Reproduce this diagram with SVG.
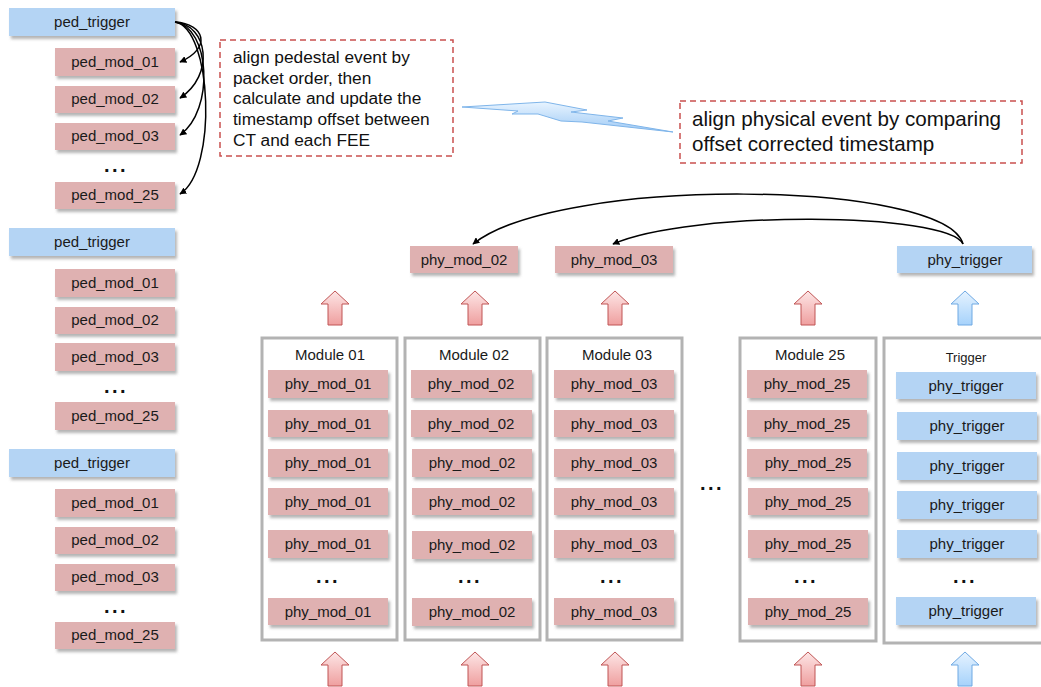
<svg xmlns="http://www.w3.org/2000/svg" width="1041" height="687" viewBox="0 0 1041 687">
<defs>
<filter id="sh" x="-10%" y="-30%" width="130%" height="170%">
<feDropShadow dx="2" dy="3" stdDeviation="1.5" flood-color="#777" flood-opacity="0.55"/>
</filter>
<linearGradient id="gp" x1="0" y1="0" x2="0" y2="1"><stop offset="0" stop-color="#fde6e6"/><stop offset="1" stop-color="#ef9f9f"/></linearGradient>
<linearGradient id="gb" x1="0" y1="0" x2="0" y2="1"><stop offset="0" stop-color="#e6f3ff"/><stop offset="1" stop-color="#a6d2fb"/></linearGradient>
<linearGradient id="gl" x1="0" y1="0" x2="0" y2="1"><stop offset="0" stop-color="#e8f4ff"/><stop offset="1" stop-color="#9fcaf5"/></linearGradient>
<marker id="ah" viewBox="0 0 10 10" refX="9" refY="5" markerWidth="7" markerHeight="7" orient="auto-start-reverse" markerUnits="userSpaceOnUse">
<path d="M0,0 L10,5 L0,10 z" fill="#000"/>
</marker>
<path id="upa" d="M0,0 L14,13 L7,13 L7,34 L-7,34 L-7,13 L-14,13 Z"/>
</defs>
<style>
.p{fill:#dfb1b1;filter:url(#sh)}
.b{fill:#b4d4f4;filter:url(#sh)}
.t{font-family:"Liberation Sans",Arial,sans-serif;font-size:15px;fill:#1a1a1a;text-anchor:middle}
.tt{font-family:"Liberation Sans",Arial,sans-serif;font-size:13px;fill:#1a1a1a;text-anchor:middle}
.d{font-family:"Liberation Sans",Arial,sans-serif;font-size:20px;font-weight:bold;fill:#111;text-anchor:middle;letter-spacing:2.5px}
.mod{fill:#fff;stroke:#b3b3b3;stroke-width:3}
.dash{fill:#fff;stroke:#c9504f;stroke-width:1.5;stroke-dasharray:6 4}
.note{font-family:"Liberation Sans",Arial,sans-serif;font-size:17.3px;fill:#111}
.note2{font-family:"Liberation Sans",Arial,sans-serif;font-size:20.6px;fill:#111}
.c{fill:none;stroke:#000;stroke-width:1.5;marker-end:url(#ah)}
.ap{fill:url(#gp);stroke:#c05555;stroke-width:1}
.ab{fill:url(#gb);stroke:#6fa9e3;stroke-width:1}
</style>
<rect width="1041" height="687" fill="#fff"/>

<!-- left pedestal groups -->
<g id="ped-group-1">
<rect class="b" x="9" y="8" width="166" height="28"/><text class="t" x="92" y="27">ped_trigger</text>
<rect class="p" x="55" y="48" width="120" height="28"/><text class="t" x="115" y="67">ped_mod_01</text>
<rect class="p" x="55" y="86" width="120" height="27"/><text class="t" x="115" y="104">ped_mod_02</text>
<rect class="p" x="55" y="123" width="120" height="27"/><text class="t" x="115" y="141">ped_mod_03</text>
<text class="d" x="116" y="172">...</text>
<rect class="p" x="55" y="182" width="120" height="27"/><text class="t" x="115" y="200">ped_mod_25</text>
</g>
<g id="ped-group-2">
<rect class="b" x="9" y="228" width="166" height="28"/><text class="t" x="92" y="247">ped_trigger</text>
<rect class="p" x="55" y="269" width="120" height="28"/><text class="t" x="115" y="288">ped_mod_01</text>
<rect class="p" x="55" y="307" width="120" height="27"/><text class="t" x="115" y="325">ped_mod_02</text>
<rect class="p" x="55" y="343" width="120" height="28"/><text class="t" x="115" y="362">ped_mod_03</text>
<text class="d" x="116" y="393">...</text>
<rect class="p" x="55" y="402" width="120" height="28"/><text class="t" x="115" y="421">ped_mod_25</text>
</g>
<g id="ped-group-3">
<rect class="b" x="9" y="449" width="166" height="28"/><text class="t" x="92" y="468">ped_trigger</text>
<rect class="p" x="55" y="489" width="120" height="28"/><text class="t" x="115" y="508">ped_mod_01</text>
<rect class="p" x="55" y="527" width="120" height="27"/><text class="t" x="115" y="545">ped_mod_02</text>
<rect class="p" x="55" y="564" width="120" height="27"/><text class="t" x="115" y="582">ped_mod_03</text>
<text class="d" x="116" y="613">...</text>
<rect class="p" x="55" y="622" width="120" height="27"/><text class="t" x="115" y="640">ped_mod_25</text>
</g>

<!-- notes -->
<g id="note-pedestal">
<rect class="dash" x="220" y="40" width="233" height="116"/>
<text class="note" x="233" y="63">align pedestal event by</text>
<text class="note" x="233" y="84">packet order, then</text>
<text class="note" x="233" y="104">calculate and update the</text>
<text class="note" x="233" y="125">timestamp offset between</text>
<text class="note" x="233" y="146">CT and each FEE</text>
</g>
<g id="lightning">
<polygon points="462,107 545,102 587,110 571,112 623,118 608,121 673,132 582,122 561,121 538,114 512,114 518,111" fill="url(#gl)" stroke="#7fb5ea" stroke-width="1" stroke-linejoin="round"/>
</g>
<g id="note-physical">
<rect class="dash" x="680" y="101" width="342" height="62"/>
<text class="note2" x="692" y="126">align physical event by comparing</text>
<text class="note2" x="692" y="151">offset corrected timestamp</text>
</g>

<!-- top aligned row -->
<g id="top-phy-mod-02"><rect class="p" x="410" y="246" width="108" height="27"/><text class="t" x="464" y="265">phy_mod_02</text></g>
<g id="top-phy-mod-03"><rect class="p" x="555" y="246" width="118" height="27"/><text class="t" x="614" y="265">phy_mod_03</text></g>
<g id="top-phy-trigger"><rect class="b" x="897" y="246" width="135" height="27"/><text class="t" x="965" y="265">phy_trigger</text></g>

<!-- module columns -->
<g id="module-01">
<rect class="mod" x="262" y="338" width="135" height="302"/>
<text class="t" x="330" y="360">Module 01</text>
<rect class="p" x="268" y="370" width="120" height="28"/><text class="t" x="328" y="389">phy_mod_01</text>
<rect class="p" x="268" y="410" width="120" height="27"/><text class="t" x="328" y="429">phy_mod_01</text>
<rect class="p" x="268" y="449" width="120" height="28"/><text class="t" x="328" y="468">phy_mod_01</text>
<rect class="p" x="268" y="488" width="120" height="27"/><text class="t" x="328" y="507">phy_mod_01</text>
<rect class="p" x="268" y="530" width="120" height="28"/><text class="t" x="328" y="549">phy_mod_01</text>
<text class="d" x="328" y="583">...</text>
<rect class="p" x="268" y="598" width="120" height="27"/><text class="t" x="328" y="617">phy_mod_01</text>
</g>
<g id="module-02">
<rect class="mod" x="405" y="338" width="135" height="302"/>
<text class="t" x="474" y="360">Module 02</text>
<rect class="p" x="411" y="370" width="121" height="28"/><text class="t" x="471" y="389">phy_mod_02</text>
<rect class="p" x="411" y="410" width="121" height="27"/><text class="t" x="471" y="429">phy_mod_02</text>
<rect class="p" x="412" y="449" width="120" height="28"/><text class="t" x="472" y="468">phy_mod_02</text>
<rect class="p" x="412" y="488" width="120" height="27"/><text class="t" x="472" y="507">phy_mod_02</text>
<rect class="p" x="412" y="531" width="120" height="28"/><text class="t" x="472" y="550">phy_mod_02</text>
<text class="d" x="470" y="583">...</text>
<rect class="p" x="412" y="598" width="120" height="28"/><text class="t" x="472" y="617">phy_mod_02</text>
</g>
<g id="module-03">
<rect class="mod" x="547" y="338" width="135" height="302"/>
<text class="t" x="617" y="360">Module 03</text>
<rect class="p" x="554" y="370" width="120" height="28"/><text class="t" x="614" y="389">phy_mod_03</text>
<rect class="p" x="554" y="410" width="120" height="27"/><text class="t" x="614" y="429">phy_mod_03</text>
<rect class="p" x="554" y="449" width="120" height="28"/><text class="t" x="614" y="468">phy_mod_03</text>
<rect class="p" x="554" y="488" width="120" height="27"/><text class="t" x="614" y="507">phy_mod_03</text>
<rect class="p" x="554" y="530" width="120" height="28"/><text class="t" x="614" y="549">phy_mod_03</text>
<text class="d" x="612" y="583">...</text>
<rect class="p" x="554" y="598" width="120" height="27"/><text class="t" x="614" y="617">phy_mod_03</text>
</g>
<text class="d" x="712" y="490">...</text>
<g id="module-25">
<rect class="mod" x="740" y="338" width="136" height="303"/>
<text class="t" x="810" y="360">Module 25</text>
<rect class="p" x="747" y="370" width="120" height="28"/><text class="t" x="807" y="389">phy_mod_25</text>
<rect class="p" x="747" y="410" width="120" height="27"/><text class="t" x="807" y="429">phy_mod_25</text>
<rect class="p" x="747" y="449" width="120" height="28"/><text class="t" x="808" y="468">phy_mod_25</text>
<rect class="p" x="748" y="488" width="120" height="27"/><text class="t" x="808" y="507">phy_mod_25</text>
<rect class="p" x="748" y="530" width="120" height="28"/><text class="t" x="808" y="549">phy_mod_25</text>
<text class="d" x="806" y="583">...</text>
<rect class="p" x="748" y="598" width="120" height="27"/><text class="t" x="808" y="617">phy_mod_25</text>
</g>
<g id="trigger">
<rect class="mod" x="884" y="338" width="170" height="305"/>
<text class="tt" x="966" y="362">Trigger</text>
<rect class="b" x="896" y="372" width="140" height="27"/><text class="t" x="966" y="391">phy_trigger</text>
<rect class="b" x="897" y="412" width="140" height="28"/><text class="t" x="967" y="431">phy_trigger</text>
<rect class="b" x="897" y="452" width="140" height="28"/><text class="t" x="967" y="471">phy_trigger</text>
<rect class="b" x="897" y="491" width="140" height="28"/><text class="t" x="967" y="510">phy_trigger</text>
<rect class="b" x="897" y="530" width="140" height="28"/><text class="t" x="967" y="549">phy_trigger</text>
<text class="d" x="965" y="583">...</text>
<rect class="b" x="896" y="597" width="140" height="28"/><text class="t" x="966" y="616">phy_trigger</text>
</g>

<!-- block arrows -->
<g id="block-arrows">
<use href="#upa" class="ap" x="335" y="291"/>
<use href="#upa" class="ap" x="475" y="291"/>
<use href="#upa" class="ap" x="615" y="291"/>
<use href="#upa" class="ap" x="808" y="291"/>
<use href="#upa" class="ab" x="965" y="291"/>
<use href="#upa" class="ap" x="335" y="652"/>
<use href="#upa" class="ap" x="475" y="652"/>
<use href="#upa" class="ap" x="615" y="652"/>
<use href="#upa" class="ap" x="808" y="652"/>
<use href="#upa" class="ab" x="965" y="652"/>
</g>

<!-- connectors -->
<g id="connectors">
<path class="c" d="M175,22 C205,24 212,48 180,62"/>
<path class="c" d="M175,22 C208,25 215,75 180,98"/>
<path class="c" d="M175,22 C210,27 215,110 180,135"/>
<path class="c" d="M175,22 C212,28 218,170 180,194"/>
<path class="c" d="M963,244 C945,180 560,175 473,244"/>
<path class="c" d="M963,244 C948,212 690,210 613,244"/>
</g>
</svg>
